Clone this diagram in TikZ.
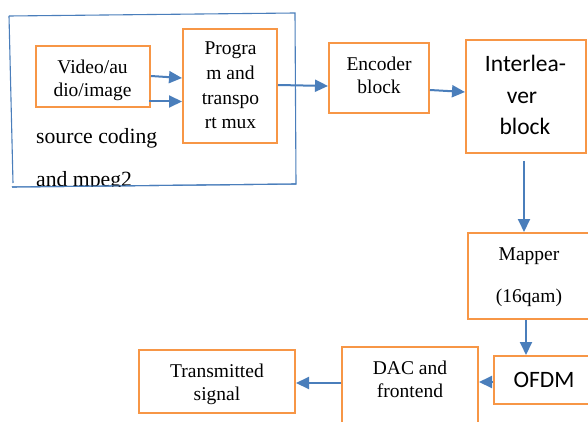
\documentclass[tikz,border=0pt]{standalone}
\usepackage{fontspec}
\setmainfont{Liberation Serif}
\newfontfamily\calfont{Carlito}
\usetikzlibrary{arrows.meta,calc}
\definecolor{boxorange}{HTML}{F79646}
\definecolor{lineblue}{HTML}{4A7EBB}
\tikzset{
  box/.style={draw=boxorange, line width=2pt, rectangle, inner sep=0pt},
  arr/.style={draw=lineblue, line width=2pt, -{Triangle[length=13pt,width=12pt]}},
  frame/.style={draw=lineblue, line width=1.1pt},
  txt/.style={anchor=base, inner sep=0pt, font=\fontsize{19.5}{23}\selectfont},
  bigtxt/.style={anchor=base west, inner sep=0pt, font=\fontsize{21.7}{26}\selectfont},
  caltxt/.style={anchor=base, inner sep=0pt, font=\calfont\fontsize{23.5}{28}\selectfont},
}
\begin{document}
\begin{tikzpicture}[x=1pt,y=-1pt]
\useasboundingbox (0,0) rectangle (588,422);
\clip (0,0) rectangle (588,422);
\fill[white] (0,0) rectangle (588,422);

% outer frame
\draw[frame] (9,16) -- (295,13) -- (296,184) -- (12,187);
\draw[frame] (9,16) -- (13,183);

% boxes
\node[box, minimum width=114pt, minimum height=61pt] (vid) at (93,76.5) {};
\node[box, minimum width=94pt, minimum height=114pt] (prog) at (230,86) {};
\node[box, minimum width=100pt, minimum height=70pt] (enc) at (379,78) {};
\node[box, minimum width=120pt, minimum height=113pt] (intl) at (526,96.5) {};
\node[box, minimum width=132pt, minimum height=86pt] (map) at (534,276) {};
\node[box, minimum width=116pt, minimum height=48pt] (ofdm) at (552,380) {};
\node[box, minimum width=136pt, minimum height=93pt] (dac) at (410,393.5) {};
\node[box, minimum width=156pt, minimum height=63pt] (tx) at (217,381.5) {};

% texts
\node[txt] (vid1) at (92.5,74) {Video/au};
\node[txt] (vid2) at (92.5,97) {dio/image};
\node[txt] (prog1) at (230.5,55) {Progra};
\node[txt] (prog2) at (230.5,80) {m and};
\node[txt] (prog3) at (230.5,105) {transpo};
\node[txt] (prog4) at (230.5,129) {rt mux};
\node[bigtxt] (src1) at (36,144) {source coding};
\begin{scope}
\clip (0,0) rectangle (300,186);
\node[bigtxt] (src2) at (36,186) {and mpeg2};
\end{scope}
\node[txt] (enc1) at (379,71) {Encoder};
\node[txt] (enc2) at (379,94) {block};
\node[caltxt] (intl1) at (525.5,72) {Interlea-};
\node[caltxt] (intl2) at (522,103.5) {ver};
\node[caltxt] (intl3) at (525,135) {block};
\node[txt] (map1) at (529,260) {Mapper};
\node[txt] (map2) at (529,302) {(16qam)};
\node[caltxt] (ofdm1) at (544,387) {OFDM};
\node[txt] (dac1) at (410,374) {DAC and};
\node[txt] (dac2) at (410,397) {frontend};
\node[txt] (tx1) at (217,377) {Transmitted};
\node[txt] (tx2) at (217,400) {signal};

% frame bottom over the text (as in the reference)
\draw[frame] (296,184) -- (12,187);

% connectors
\draw[arr] ([yshift=0.5pt]vid.east) -- ([yshift=8pt]prog.west);
\draw[arr] ([xshift=-2pt,yshift=-25pt]vid.east) -- ([yshift=-15.5pt]prog.west);
\draw[arr] ([yshift=1pt]prog.east) -- ([yshift=-8pt]enc.west);
\draw[arr] ([yshift=-12pt]enc.east) -- ([yshift=4.5pt]intl.west);
\coordinate (i1) at ($(intl.south)+(-2,7)$);
\draw[arr] (i1) -- (i1 |- map.north);
\coordinate (m1) at (map.south -| 526,0);
\draw[arr] (m1) -- (m1 |- ofdm.north);
\coordinate (o1) at ([yshift=-2pt]ofdm.west);
\draw[arr] (o1) -- (o1 -| dac.east);
\coordinate (d1) at (dac.west |- 0,383);
\draw[arr] (d1) -- (d1 -| tx.east);
\end{tikzpicture}
\end{document}
